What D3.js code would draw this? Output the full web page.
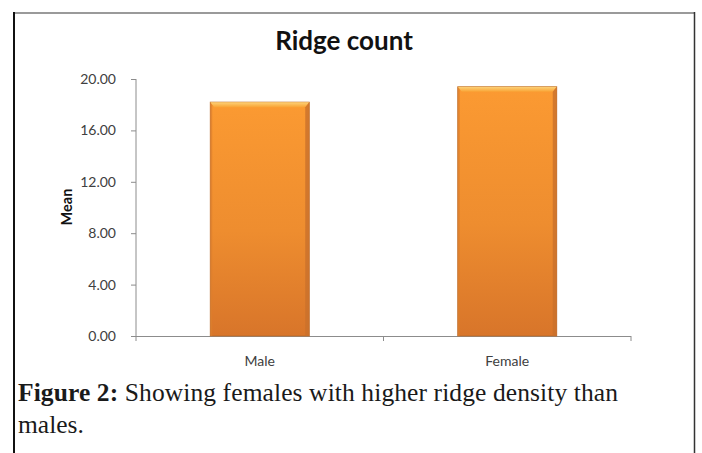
<!DOCTYPE html>
<html><head><meta charset="utf-8">
<script src="https://cdn.jsdelivr.net/npm/d3@7"></script>
<style>body{margin:0;background:#fff}svg{display:block}</style>
</head><body>
<script>
const categories = ["Male", "Female"];
const meanValues = [18.2, 19.4];
const yTicks = [0, 4, 8, 12, 16, 20];
const chartTitle = "Ridge count";
const yAxisTitle = "Mean";
const captionBold = "Figure 2:";
const captionLine1 = " Showing females with higher ridge density than";
const captionLine2 = "males.";

const W = 702, H = 453;
const svg = d3.select("body").append("svg").attr("width", W).attr("height", H);

// frame
svg.append("line").attr("x1", 13).attr("x2", 695).attr("y1", 13).attr("y2", 13).attr("stroke", "#9a9a9a").attr("stroke-width", 2);
svg.append("line").attr("x1", 14).attr("x2", 14).attr("y1", 12).attr("y2", H).attr("stroke", "#111").attr("stroke-width", 2);
svg.append("line").attr("x1", 694.5).attr("x2", 694.5).attr("y1", 12).attr("y2", H).attr("stroke", "#333").attr("stroke-width", 1.5);

const x = d3.scaleBand().domain(categories).range([136, 631]).paddingInner(0.6).paddingOuter(0.3);
const y = d3.scaleLinear().domain([0, 20]).range([336, 79]);

const defs = svg.append("defs");
const g1 = defs.append("linearGradient").attr("id", "barG").attr("x1", 0).attr("x2", 0).attr("y1", 0).attr("y2", 1);
g1.append("stop").attr("offset", "0%").attr("stop-color", "#FB9A32");
g1.append("stop").attr("offset", "55%").attr("stop-color", "#EE8D2F");
g1.append("stop").attr("offset", "100%").attr("stop-color", "#D8752A");
const g2 = defs.append("linearGradient").attr("id", "bevG").attr("x1", 0).attr("x2", 0).attr("y1", 0).attr("y2", 1);
g2.append("stop").attr("offset", "0%").attr("stop-color", "#FDD37A");
g2.append("stop").attr("offset", "100%").attr("stop-color", "#F9A436");

const sans = "Lato, 'Open Sans', sans-serif";

// axes
const yAxis = d3.axisLeft(y).tickValues(yTicks).tickFormat(d3.format(".2f")).tickSize(5).tickPadding(15);
const ya = svg.append("g").attr("transform", "translate(136,0)").call(yAxis);
ya.select(".domain").attr("stroke", "#8c8c8c").attr("d", "M0,79V336");
ya.selectAll(".tick line").attr("stroke", "#8c8c8c");
ya.selectAll("text").attr("font-family", sans).attr("font-size", 14).attr("fill", "#404040");

const xa = svg.append("g").attr("transform", "translate(0,336)");
xa.append("line").attr("x1", 136).attr("x2", 631).attr("y1", 0.5).attr("y2", 0.5).attr("stroke", "#8c8c8c");
const bounds = [136, (x("Male") + x.bandwidth() + x("Female")) / 2, 631];
xa.selectAll("line.t").data(bounds).join("line").attr("class", "t")
  .attr("x1", d => d).attr("x2", d => d).attr("y1", 0).attr("y2", 5).attr("stroke", "#8c8c8c");
xa.selectAll("text").data(categories).join("text")
  .attr("x", d => x(d) + x.bandwidth() / 2).attr("y", 30).attr("text-anchor", "middle")
  .attr("font-family", sans).attr("font-size", 14).attr("fill", "#404040").text(d => d);

// bars
const bars = svg.append("g").selectAll("g").data(categories).join("g");
bars.append("rect").attr("x", d => x(d)).attr("width", x.bandwidth())
  .attr("y", (d, i) => y(meanValues[i])).attr("height", (d, i) => y(0) - y(meanValues[i]))
  .attr("fill", "url(#barG)").attr("stroke", "#B8692A").attr("stroke-width", 0.8);
bars.append("path").attr("d", (d, i) => {
  const x0 = x(d), x1 = x(d) + x.bandwidth(), t = y(meanValues[i]);
  return `M${x0},${t}H${x1}L${x1 - 4},${t + 5}H${x0 + 4}Z`;
}).attr("fill", "url(#bevG)");
bars.append("path").attr("d", (d, i) => {
  const x1 = x(d) + x.bandwidth(), t = y(meanValues[i]);
  return `M${x1},${t}L${x1 - 4},${t + 5}V${y(0)}H${x1}Z`;
}).attr("fill", "#C9712C").attr("opacity", 0.8);
bars.append("path").attr("d", (d, i) => {
  const x0 = x(d), t = y(meanValues[i]);
  return `M${x0},${t}L${x0 + 2},${t + 3}V${y(0)}H${x0}Z`;
}).attr("fill", "#DB7F2E").attr("opacity", 0.7);

// titles
svg.append("text").attr("x", 344).attr("y", 50).attr("text-anchor", "middle")
  .attr("font-family", sans).attr("font-weight", "bold").attr("font-size", 26).attr("fill", "#111").text(chartTitle);
svg.append("text").attr("transform", "translate(72,207) rotate(-90)").attr("text-anchor", "middle")
  .attr("font-family", sans).attr("font-weight", "bold").attr("font-size", 14.5).attr("fill", "#111").text(yAxisTitle);

// caption
const cap = svg.append("text").attr("x", 18).attr("y", 401)
  .attr("font-family", "Liberation Serif, serif").attr("font-size", 25.5).attr("fill", "#1a1a1a")
  .attr("textLength", 600).attr("lengthAdjust", "spacing");
cap.append("tspan").attr("font-weight", "bold").text(captionBold);
cap.append("tspan").text(captionLine1);
svg.append("text").attr("x", 18).attr("y", 433)
  .attr("font-family", "Liberation Serif, serif").attr("font-size", 25.5).attr("fill", "#1a1a1a").text(captionLine2);
</script>
</body></html>
